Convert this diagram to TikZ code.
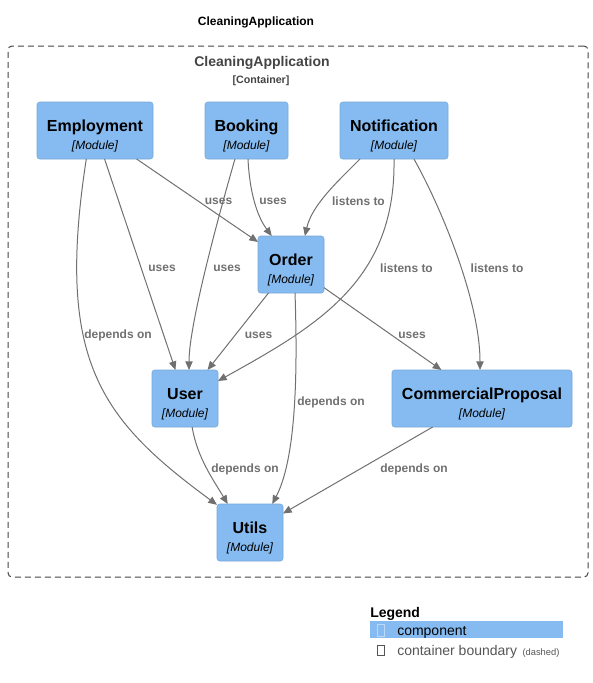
\documentclass[tikz,border=0pt]{standalone}
\usepackage{fontspec}
\setmainfont{Liberation Sans}
\usetikzlibrary{arrows.meta}
\definecolor{compFill}{HTML}{85BBF0}
\definecolor{compLine}{HTML}{78A8D8}
\definecolor{relGray}{HTML}{707070}
\definecolor{bndGray}{HTML}{444444}
\definecolor{lgdGray}{HTML}{555555}

\begin{document}
\begin{tikzpicture}[x=0.75pt, y=0.75pt,
    comp/.style={draw=compLine, fill=compFill, rounded corners=2pt, minimum width=#1, minimum height=42.75pt,
                 inner sep=0pt, outer sep=0pt, align=center, font=\fontsize{12}{13.5}\selectfont},
    rel/.style={draw=relGray, line width=0.75pt, -{Triangle[length=6.5pt,width=5.5pt]}},
    lbl/.style={text=relGray, font=\fontsize{9}{10}\selectfont\bfseries, inner sep=0pt}
  ]
    \newcommand{\modname}[1]{\rule{0pt}{16.5pt}\textbf{#1}\\{\fontsize{9}{13.5}\selectfont\itshape [Module]}}

    \useasboundingbox (0,0) rectangle (593,-683);

    % Title
    \node[font=\fontsize{9}{11}\selectfont\bfseries] (title) at (256,-22) {CleaningApplication};

    % Container boundary
    \node[draw=bndGray, line width=0.75pt, dash pattern=on 4.5pt off 3pt, rounded corners=3pt,
          minimum width=435pt, minimum height=398.25pt, inner sep=0pt, outer sep=0pt] (app) at (298,-311.5) {};
    \node[text=bndGray, font=\fontsize{10.5}{12}\selectfont\bfseries] (appname) at (262,-63) {CleaningApplication};
    \node[text=bndGray, font=\fontsize{8}{9}\selectfont\bfseries]     (apptype) at (261,-81) {[Container]};

    % Modules
    \node[comp=87pt]    (emp)   at (95,-130.5)  {\modname{Employment}};
    \node[comp=62.25pt] (book)  at (246.5,-130.5) {\modname{Booking}};
    \node[comp=81pt]    (notif) at (394,-130.5) {\modname{Notification}};
    \node[comp=49.5pt]  (order) at (291,-264.5) {\modname{Order}};
    \node[comp=49.5pt]  (user)  at (185,-398.5) {\modname{User}};
    \node[comp=135pt]   (cp)    at (482,-398.5) {\modname{CommercialProposal}};
    \node[comp=49.5pt]  (utils) at (250,-532.5) {\modname{Utils}};

    % Relations
    \draw[rel] (emp) -- (order);
    \draw[rel] (emp) -- (user);
    \draw[rel] (emp.-107) .. controls +(-31,-201) and +(-117,86) .. (utils.140);
    \draw[rel] (book.-87) .. controls +(2,-40) and +(-12,16) .. (order.124);
    \draw[rel] (book.-112) .. controls +(-9,-31) and +(0,50) .. (user.82);
    \draw[rel] (notif.-140) .. controls +(-22,-22) and +(7,31) .. (order.64);
    \draw[rel] (notif.-90) .. controls +(2,-121) and +(101,56) .. (user.28);
    \draw[rel] (notif.-55) .. controls +(26,-46) and +(0,70) .. (cp.94);
    \draw[rel] (order) -- (user);
    \draw[rel] (order) -- (cp);
    \draw[rel] (order.-82) .. controls +(3,-87) and +(23,44) .. (utils.52);
    \draw[rel] (user.-76) .. controls +(5,-30) and +(-15,25) .. (utils.128);
    \draw[rel] (cp) -- (utils);

    % Relation labels
    \node[lbl] (l1)  at (218.5,-201.5) {uses};
    \node[lbl] (l2)  at (273,-201.5)   {uses};
    \node[lbl] (l3)  at (358.5,-201.5) {listens to};
    \node[lbl] (l4)  at (162,-268.5)   {uses};
    \node[lbl] (l5)  at (227,-268.5)   {uses};
    \node[lbl] (l6)  at (406.5,-268.5) {listens to};
    \node[lbl] (l7)  at (497,-268.5)   {listens to};
    \node[lbl] (l8)  at (118,-335.5)   {depends on};
    \node[lbl] (l9)  at (258.5,-335.5) {uses};
    \node[lbl] (l10) at (412,-335.5)   {uses};
    \node[lbl] (l11) at (331,-402.5)   {depends on};
    \node[lbl] (l12) at (245,-469.5)   {depends on};
    \node[lbl] (l13) at (414,-469.5)   {depends on};

    % Legend
    \node[font=\fontsize{10.5}{12}\selectfont\bfseries, anchor=west, inner sep=0pt] (lgd) at (370,-614) {Legend};
    \node[fill=compFill, minimum width=144.75pt, minimum height=12.75pt, inner sep=0pt, anchor=north west] (lgdcomp) at (370,-621) {};
    \node[draw=compFill!55!white, line width=0.6pt, minimum width=5.25pt, minimum height=8.5pt, inner sep=0pt] (lgdbox1) at (381,-630.5) {};
    \node[font=\fontsize{10.5}{12}\selectfont, anchor=west, inner sep=0pt] (lgdtxt1) at (397,-632) {component};
    \node[draw=lgdGray, line width=0.6pt, minimum width=5.25pt, minimum height=8pt, inner sep=0pt] (lgdbox2) at (381,-650.5) {};
    \node[text=lgdGray, font=\fontsize{10.5}{12}\selectfont, anchor=west, inner sep=0pt] (lgdtxt2) at (397,-652)
      {container boundary {\fontsize{7}{8}\selectfont\,(dashed)}};
\end{tikzpicture}
\end{document}
